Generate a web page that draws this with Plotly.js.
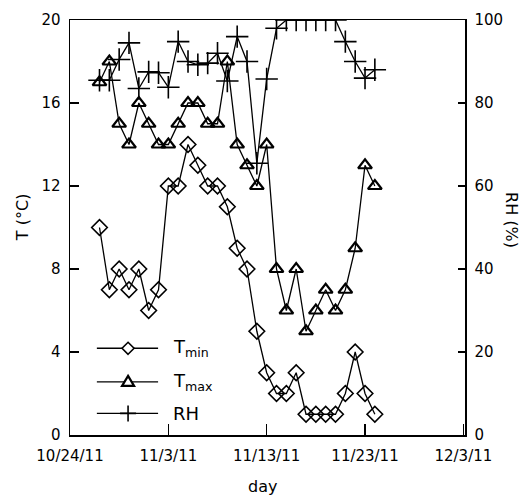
<!DOCTYPE html>
<html>
<head>
<meta charset="utf-8">
<script src="https://cdn.plot.ly/plotly-3.0.1.min.js"></script>
<style>html,body{margin:0;padding:0;background:#fff;}#chart{width:529px;height:499px;}</style>
</head>
<body>
<div id="chart"></div>
<script>
const days = ['2011-10-27','2011-10-28','2011-10-29','2011-10-30','2011-10-31','2011-11-01','2011-11-02',
  '2011-11-03','2011-11-04','2011-11-05','2011-11-06','2011-11-07','2011-11-08','2011-11-09','2011-11-10',
  '2011-11-11','2011-11-12','2011-11-13','2011-11-14','2011-11-15','2011-11-16','2011-11-17','2011-11-18',
  '2011-11-19','2011-11-20','2011-11-21','2011-11-22','2011-11-23','2011-11-24'];
const tmin = [10,7,8,7,8,6,7,12,12,14,13,12,12,11,9,8,5,3,2,2,3,1,1,1,1,2,4,2,1];
const tmax = [17,18,15,14,16,15,14,14,15,16,16,15,15,18,14,13,12,14,8,6,8,5,6,7,6,7,9,13,12];
const rh = [85.5,85.5,90.5,94.5,83.5,87.5,87.3,83.8,94.8,90,89.2,89.6,92,85.3,96,90,65.5,85.8,98,
  100,100,100,100,100,100,94.8,90,86,88];
const xTickVals = ['2011-10-24','2011-11-03','2011-11-13','2011-11-23','2011-12-03'];
const xTickText = ['10/24/11','11/3/11','11/13/11','11/23/11','12/3/11'];
const tTickVals = [0,4,8,12,16,20];
const rhTickVals = [0,20,40,60,80,100];
const legendNames = ['T<sub>min</sub>','T<sub>max</sub>','RH'];

const FONT = 'DejaVu Sans, sans-serif';
const lineStyle = {color:'#000', width:1.3};

const traces = [
  {x:days, y:tmin, name:'Tmin', mode:'lines+markers', line:lineStyle,
   marker:{symbol:'diamond-open', size:12, color:'#000', line:{width:1.6, color:'#000'}}},
  {x:days, y:tmax, name:'Tmax', mode:'lines+markers', line:lineStyle,
   marker:{symbol:'triangle-up-open', size:12, color:'#000', line:{width:2.2, color:'#000'}}},
  {x:days, y:rh, name:'RH', yaxis:'y2', mode:'lines+markers', line:lineStyle,
   marker:{symbol:'cross-thin', size:16, color:'#000', line:{width:1.6, color:'#000'}}}
];

// legend drawn as layout shapes inside the plot area
const legRows = [0.209, 0.128, 0.052];
const lx0 = 0.068, lx1 = 0.223, lmx = 0.147, ltx = 0.256;
const shapes = [];
const annotations = [];
const markerPaths = [
  'M0,-6L6,0L0,6L-6,0Z',
  'M0,6L6,-4L-6,-4Z',
  'M-8,0H8M0,-8V8'
];
legRows.forEach((ry, i) => {
  shapes.push({type:'line', xref:'paper', yref:'paper', x0:lx0, x1:lx1, y0:ry, y1:ry,
    line:{color:'#000', width:1.3}});
  shapes.push({type:'path', xref:'paper', yref:'paper', xsizemode:'pixel', ysizemode:'pixel',
    xanchor:lmx, yanchor:ry, path:markerPaths[i], fillcolor:'#fff',
    line:{color:'#000', width: i===1 ? 2.2 : 1.6}});
  annotations.push({xref:'paper', yref:'paper', x:ltx, y:ry, xanchor:'left', yanchor:'middle',
    text:legendNames[i], showarrow:false, font:{family:FONT, size:18, color:'#000'}});
});
annotations.push({xref:'paper', yref:'paper', x:0.4886, y:-0.125, text:'day', showarrow:false,
  xanchor:'center', yanchor:'middle', font:{family:FONT, size:16, color:'#000'}});
annotations.push({xref:'paper', yref:'paper', x:-0.1215, y:0.525, text:'T (°C)', showarrow:false,
  textangle:-90, xanchor:'center', yanchor:'middle', font:{family:FONT, size:16, color:'#000'}});
annotations.push({xref:'paper', yref:'paper', x:1.119, y:0.518, text:'RH (%)', showarrow:false,
  textangle:90, xanchor:'center', yanchor:'middle', font:{family:FONT, size:16, color:'#000'}});

const layout = {
  width:529, height:499,
  margin:{l:70, r:64, t:20, b:64},
  paper_bgcolor:'#fff', plot_bgcolor:'#fff',
  showlegend:false,
  font:{family:FONT, size:15, color:'#000'},
  xaxis:{type:'date', range:['2011-10-24 00:00','2011-12-03 04:00'],
    tickvals:xTickVals, ticktext:xTickText, ticks:'inside', ticklen:11, tickwidth:1.3, tickcolor:'#000',
    showgrid:false, zeroline:false, showline:true, linecolor:'#000', linewidth:1.5, mirror:true,
    ticklabelstandoff:6, tickfont:{family:FONT, size:15, color:'#000'}},
  yaxis:{range:[0,20], tickvals:tTickVals, ticks:'inside', ticklen:9, tickwidth:1.3, tickcolor:'#000',
    showgrid:false, zeroline:false, showline:true, linecolor:'#000', linewidth:1.5,
    ticklabelstandoff:5, tickfont:{family:FONT, size:15, color:'#000'}},
  yaxis2:{range:[0,100], tickvals:rhTickVals, overlaying:'y', side:'right', ticks:'inside', ticklen:7,
    tickwidth:1.3, tickcolor:'#000', showgrid:false, zeroline:false, showline:true, linecolor:'#000',
    linewidth:1.5, ticklabelstandoff:5, tickfont:{family:FONT, size:15, color:'#000'}},
  shapes:shapes,
  annotations:annotations
};

Plotly.newPlot('chart', traces, layout, {staticPlot:true, displayModeBar:false});
</script>
</body>
</html>
